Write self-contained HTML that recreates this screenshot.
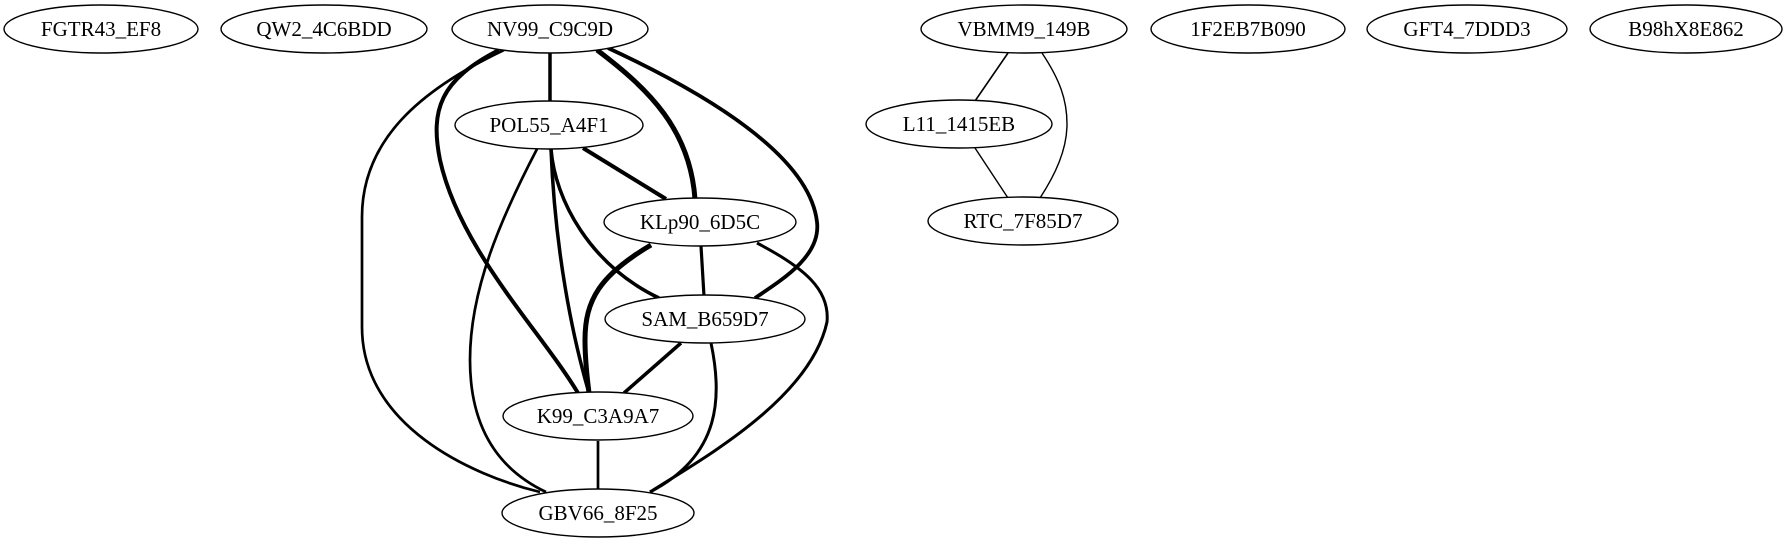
<!DOCTYPE html>
<html><head><meta charset="utf-8"><style>
html,body{margin:0;padding:0;background:#fff;width:1788px;height:539px;overflow:hidden}
text{font-family:"Liberation Serif",serif;font-size:21px;text-anchor:middle;dominant-baseline:central;fill:#000}
ellipse{fill:#fff;stroke:#000;stroke-width:1.4}
path{fill:none;stroke:#000}
</style></head><body>
<svg width="1788" height="539" viewBox="0 0 1788 539" xmlns="http://www.w3.org/2000/svg">
<!-- edges -->
<path d="M550,53 L550,101" stroke-width="3.5"/>
<path d="M504,50 C420,90 362,140 362,217 L362,327 C362,425 470,475 540,492" stroke-width="2.7"/>
<path d="M499,50 C440,80 430,110 440,160 C460,250 540,330 578,393" stroke-width="4"/>
<path d="M597,50 C650,90 690,130 695,199" stroke-width="5"/>
<path d="M608,48 C720,100 810,160 817,222 C821,255 785,278 755,298" stroke-width="3.8"/>
<path d="M583,148 L666,199" stroke-width="4"/>
<path d="M551,149 C555,200 590,265 659,298" stroke-width="3.5"/>
<path d="M551,149 C555,250 572,335 589,393" stroke-width="3.5"/>
<path d="M537,149 C500,220 470,290 470,360 C470,440 510,475 546,492" stroke-width="2.7"/>
<path d="M701,246 L704,296" stroke-width="3.2"/>
<path d="M651,245 C600,275 585,300 585,340 C585,360 587,377 589,393" stroke-width="5"/>
<path d="M757,243 C805,268 830,290 827,322 C810,400 700,460 650,492" stroke-width="3"/>
<path d="M681,343 L624,393" stroke-width="3.5"/>
<path d="M711,343 C722,395 722,455 650,492" stroke-width="3"/>
<path d="M598,441 L598,490" stroke-width="2.7"/>
<path d="M1008,53 L975,101" stroke-width="1.6"/>
<path d="M975,148 L1008,198" stroke-width="1.4"/>
<path d="M1042,53 C1060,80 1067,100 1067,124 C1067,150 1055,175 1040,198" stroke-width="1.4"/>
<!-- nodes -->
<ellipse cx="101" cy="29" rx="97" ry="24"/><text x="101" y="29">FGTR43_EF8</text>
<ellipse cx="324" cy="29" rx="103" ry="24"/><text x="324" y="29">QW2_4C6BDD</text>
<ellipse cx="550" cy="29" rx="98" ry="24"/><text x="550" y="29">NV99_C9C9D</text>
<ellipse cx="549" cy="125" rx="94" ry="24"/><text x="549" y="125">POL55_A4F1</text>
<ellipse cx="700" cy="222" rx="96" ry="24"/><text x="700" y="222">KLp90_6D5C</text>
<ellipse cx="705" cy="319" rx="100" ry="24"/><text x="705" y="319">SAM_B659D7</text>
<ellipse cx="598" cy="416" rx="95" ry="24"/><text x="598" y="416">K99_C3A9A7</text>
<ellipse cx="598" cy="513" rx="96" ry="24"/><text x="598" y="513">GBV66_8F25</text>
<ellipse cx="1024" cy="29" rx="103" ry="24"/><text x="1024" y="29">VBMM9_149B</text>
<ellipse cx="1248" cy="29" rx="97" ry="24"/><text x="1248" y="29">1F2EB7B090</text>
<ellipse cx="1467" cy="29" rx="100" ry="24"/><text x="1467" y="29">GFT4_7DDD3</text>
<ellipse cx="1686" cy="29" rx="96" ry="24"/><text x="1686" y="29">B98hX8E862</text>
<ellipse cx="959" cy="124" rx="93" ry="24"/><text x="959" y="124">L11_1415EB</text>
<ellipse cx="1023" cy="221" rx="95" ry="24"/><text x="1023" y="221">RTC_7F85D7</text>
</svg>
</body></html>
